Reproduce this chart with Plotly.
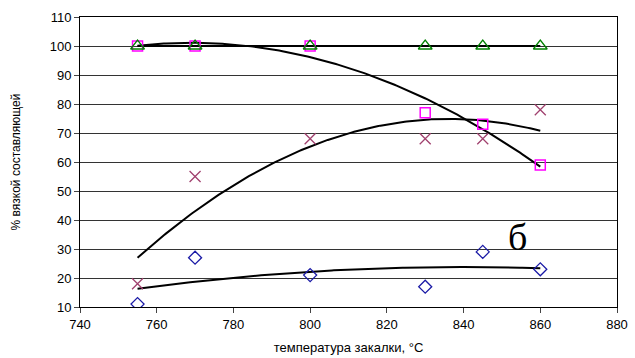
import numpy as np
import plotly.graph_objects as go

temps = [755, 770, 800, 830, 845, 860]
diamonds = [11, 27, 21, 17, 29, 23]
squares = [100, 100, 100, 77, 73, 59]
crosses = [18, 55, 68, 68, 68, 78]
triangles = [100, 100, 100, 100, 100, 100]
x_ticks = [740, 760, 780, 800, 820, 840, 860, 880]
y_ticks = [10, 20, 30, 40, 50, 60, 70, 80, 90, 100, 110]

fig = go.Figure()

xs = np.linspace(min(temps), max(temps), 200)
for ser in [diamonds, squares, crosses, triangles]:
    c = np.polyfit(temps, ser, 2)
    fig.add_trace(go.Scatter(x=xs, y=np.polyval(c, xs), mode="lines",
                             line=dict(color="black", width=2), hoverinfo="skip"))

fig.add_trace(go.Scatter(x=temps, y=diamonds, mode="markers",
                         marker=dict(symbol="diamond-open", size=10, color="#1a1aa6", line=dict(width=1.3))))
fig.add_trace(go.Scatter(x=temps, y=crosses, mode="markers",
                         marker=dict(symbol="x-thin-open", size=11, color="#a0406e", line=dict(width=1.3, color="#a0406e"))))
fig.add_trace(go.Scatter(x=temps, y=squares, mode="markers",
                         marker=dict(symbol="square-open", size=10, color="#ff00ff", line=dict(width=1.5))))
fig.add_trace(go.Scatter(x=temps, y=triangles, mode="markers",
                         marker=dict(symbol="triangle-up-open", size=12, color="#008000", line=dict(width=1.3))))

fig.add_annotation(x=854, y=34, text="б", showarrow=False,
                   font=dict(family="Liberation Serif", size=38, color="black"))

fig.update_layout(
    width=635, height=358,
    margin=dict(l=80, r=18, t=17, b=51),
    paper_bgcolor="white", plot_bgcolor="white",
    showlegend=False,
    font=dict(family="Liberation Sans, Arial", color="black"),
)
fig.update_xaxes(range=[740, 880], tickvals=x_ticks, ticks="outside", ticklen=5,
                 showline=True, linecolor="black", linewidth=1, mirror=True,
                 showgrid=False, zeroline=False, tickfont=dict(size=13), automargin=False,
                 title=dict(text="температура закалки, °С", font=dict(size=13), standoff=12))
fig.update_yaxes(range=[10, 110], tickvals=y_ticks, ticks="outside", ticklen=5,
                 showline=True, linecolor="black", linewidth=1, mirror=True,
                 showgrid=True, gridcolor="#333333", gridwidth=1, zeroline=False,
                 tickfont=dict(size=13), automargin=False,
                 title=dict(text="% вязкой составляющей", font=dict(size=12), standoff=26))

fig.write_html("out.html")
